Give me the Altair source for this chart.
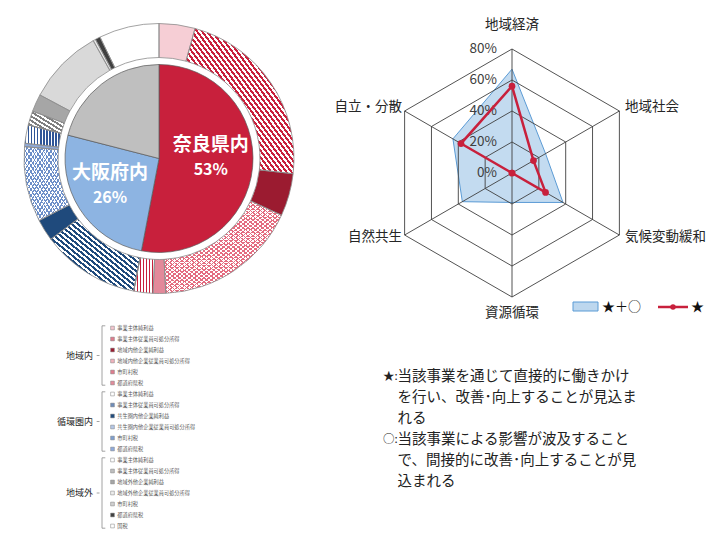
import altair as alt
import pandas as pd
import numpy as np

# ---------------- data ----------------
pie_labels = ["奈良県内", "大阪府内", "地域外"]
pie_values = [53, 26, 21]

ring_groups = ["地域内"] * 6 + ["循環圏内"] * 6 + ["地域外"] * 7
ring_items = [
    "事業主体純利益", "事業主体従業員可処分所得", "地域内他企業純利益",
    "地域内他企業従業員可処分所得", "市町村税", "都道府県税",
    "事業主体純利益", "事業主体従業員可処分所得", "共生圏内他企業純利益",
    "共生圏内他企業従業員可処分所得", "市町村税", "都道府県税",
    "事業主体純利益", "事業主体従業員可処分所得", "地域外他企業純利益",
    "地域外他企業従業員可処分所得", "市町村税", "都道府県税", "国税",
]
ring_values = [4.3, 22.5, 5.1, 17.3, 1.5, 2.3,
               0.0, 11.8, 2.6, 9.0, 0.4, 2.2,
               0.0, 1.7, 2.1, 9.1, 0.3, 0.6, 7.2]

radar_axes = ["地域経済", "地域社会", "気候変動緩和", "資源循環", "自然共生", "自立・分散"]
radar_all = [67, 25, 38, 19, 37, 44]      # ★＋○
radar_direct = [56, 16, 25, 0, 0, 38]     # ★
radar_levels = [0, 20, 40, 60, 80]

note_marks = ["★:", "○:"]
note_lines = [
    "当該事業を通じて直接的に働きかけ",
    "を行い、改善･向上することが見込ま",
    "れる",
    "当該事業による影響が波及すること",
    "で、間接的に改善･向上することが見",
    "込まれる",
]

# ---------------- styles ----------------
FONT = "Noto Sans CJK JP"
OFF = 8
CX, CY = 159 - OFF, 158.5 - OFF
R_PIE, R_IN, R_OUT = 94, 101, 135

pie_colors = ["#C8203C", "#8DB4E2", "#BFBFBF"]
ring_base = ["#F6CED5", "#FFFFFF", "#9B1B30", "#FFFFFF", "#E3899A", "#FFFFFF",
             "#FFFFFF", "#FFFFFF", "#1F4A7C", "#FFFFFF", "#8FA9D6", "#FFFFFF",
             "#FFFFFF", "#FFFFFF", "#A6A6A6", "#D9D9D9", "#E6E6E6", "#404040", "#FFFFFF"]
legend_swatch = ["#F4C6CE", "#E07D8E", "#9B1B30", "#F0B3BD", "#E07D8E", "#E38C9B",
                 "#FFFFFF", "#6F8DB9", "#1F4A7C", "#B4C7E7", "#7F9FCF", "#8FAADC",
                 "#FFFFFF", "#BFBFBF", "#A6A6A6", "#EDEDED", "#D0D0D0", "#404040", "#FFFFFF"]
TRANSP = "rgba(255,255,255,0)"


def stripes(color, n, kind, duty=0.5):
    stops = []
    for i in range(n):
        a = round(i / n, 5)
        b = round((i + duty) / n, 5)
        c = round((i + 1) / n, 5)
        stops += [{"offset": a, "color": color}, {"offset": b, "color": color},
                  {"offset": b, "color": TRANSP}, {"offset": c, "color": TRANSP}]
    if kind == "vert":
        g = dict(x1=0, y1=0, x2=1, y2=0)
    elif kind == "back":
        g = dict(x1=0, y1=1, x2=1, y2=0)
    else:
        g = dict(x1=0, y1=0, x2=1, y2=1)
    return {"gradient": "linear", "stops": stops, **g}


patterns = {
    1: [stripes("#C8203C", 43, "back")],
    3: [stripes("#E46C80", 48, "back", 0.32), stripes("#E46C80", 48, "fwd", 0.32)],
    5: [stripes("#C8203C", 7, "vert")],
    7: [stripes("#1F4A7C", 28, "back")],
    9: [stripes("#6D8FC9", 25, "back", 0.32), stripes("#6D8FC9", 25, "fwd", 0.32)],
    11: [stripes("#2F5597", 12, "vert")],
    13: [stripes("#7F7F7F", 10, "back")],
}

# ---------------- tables ----------------
pie = pd.DataFrame({"label": pie_labels, "value": pie_values})
pie["end"] = pie["value"].cumsum()
pie["start"] = pie["end"] - pie["value"]
pie["mid"] = pie["start"] + pie["value"] / 2
pie["pct"] = pie["value"].astype(str) + "%"
pie["color"] = pie_colors

ring = pd.DataFrame({"group": ring_groups, "item": ring_items, "value": ring_values})
ring["row"] = np.arange(len(ring))
ring["key"] = ring["group"] + "|" + ring["item"]
ring["end"] = ring["value"].cumsum()
ring["start"] = ring["end"] - ring["value"]
ring["base"] = ring_base
ring["swatch"] = legend_swatch

TH = alt.Scale(domain=[0, 100])
cxy = dict(x=alt.value(CX), y=alt.value(CY))

layers = []
layers.append(
    alt.Chart(ring).mark_arc(radius=R_OUT, radius2=R_IN, strokeWidth=0).encode(
        theta=alt.Theta("start:Q", scale=TH), theta2="end:Q",
        fill=alt.Fill("base:N", scale=None), **cxy)
)
for idx, grads in patterns.items():
    k = ring["key"][idx]
    for g in grads:
        layers.append(
            alt.Chart(ring).transform_filter(alt.datum.key == k)
            .mark_arc(radius=R_OUT, radius2=R_IN, fill=g, strokeWidth=0)
            .encode(theta=alt.Theta("start:Q", scale=TH), theta2="end:Q", **cxy)
        )
layers.append(
    alt.Chart(ring).mark_arc(radius=R_OUT, radius2=R_IN, fill="#FFFFFF", fillOpacity=0,
                             stroke="#8C8C8C", strokeWidth=0.8).encode(
        theta=alt.Theta("start:Q", scale=TH), theta2="end:Q", **cxy)
)
layers.append(
    alt.Chart(pie).mark_arc(radius=R_PIE, stroke="#5A5A5A", strokeWidth=0.7).encode(
        theta=alt.Theta("start:Q", scale=TH), theta2="end:Q",
        fill=alt.Fill("color:N", scale=None), **cxy)
)
pie_lab_style = {"奈良県内": (52, -18, 7), "大阪府内": (58, -16.5, 8.5)}
for name, (rr, d1, d2) in pie_lab_style.items():
    base = alt.Chart(pie).transform_filter(alt.datum.label == name)
    layers.append(base.mark_text(radius=rr, dy=d1, font=FONT, fontSize=19, fontWeight="bold",
                                 color="white").encode(
        theta=alt.Theta("mid:Q", scale=TH), text="label:N", **cxy))
    layers.append(base.mark_text(radius=rr, dy=d2, font=FONT, fontSize=16, fontWeight="bold",
                                 color="white").encode(
        theta=alt.Theta("mid:Q", scale=TH), text="pct:N", **cxy))

# ---------------- radar ----------------
RX = alt.Scale(domain=[-80, 80], range=[512 - 124 - OFF, 512 + 124 - OFF], nice=False, zero=False)
RY = alt.Scale(domain=[-80, 80], range=[173 + 124 - OFF, 173 - 124 - OFF], nice=False, zero=False)

ax_df = pd.DataFrame({"idx": range(6), "axis": radar_axes})
all_df = pd.DataFrame({"idx": range(6), "value": radar_all})
dir_df = pd.DataFrame({"idx": range(6), "value": radar_direct})
grid_df = pd.DataFrame([(lv, i) for lv in radar_levels[1:] for i in range(6)],
                       columns=["value", "idx"])
lev_df = pd.DataFrame({"level": radar_levels})


def polar(ch):
    return ch.transform_calculate(
        ang="PI/2 - datum.idx*PI/3",
        px="datum.value*cos(datum.ang)",
        py="datum.value*sin(datum.ang)")


xy = dict(x=alt.X("px:Q", scale=RX, axis=None), y=alt.Y("py:Q", scale=RY, axis=None),
          order=alt.Order("idx:Q"))

layers.append(polar(alt.Chart(all_df)).mark_line(
    interpolate="linear-closed", fill="#BDD7EE", fillOpacity=0.9,
    stroke="#5B9BD5", strokeWidth=1).encode(**xy))
layers.append(polar(alt.Chart(grid_df)).mark_line(
    interpolate="linear-closed", stroke="#404040", strokeWidth=0.9).encode(
    detail="value:N", **xy))
layers.append(alt.Chart(ax_df).transform_calculate(
    ang="PI/2 - datum.idx*PI/3", z="0",
    xe="80*cos(datum.ang)", ye="80*sin(datum.ang)").mark_rule(
    color="#404040", strokeWidth=0.9).encode(
    x=alt.X("z:Q", scale=RX, axis=None), y=alt.Y("z:Q", scale=RY, axis=None),
    x2="xe:Q", y2="ye:Q"))
layers.append(alt.Chart(lev_df).transform_calculate(lab="datum.level + '%'").mark_text(
    align="right", baseline="middle", font=FONT, fontSize=13.5, color="#404040").encode(
    x=alt.value(497 - OFF), y=alt.Y("level:Q", scale=RY, axis=None), text="lab:N"))
layers.append(polar(alt.Chart(dir_df)).mark_line(
    interpolate="linear-closed", stroke="#C8203C", strokeWidth=2.5).encode(**xy))
layers.append(polar(alt.Chart(dir_df)).mark_circle(
    color="#C8203C", size=45, opacity=1).encode(
    x=alt.X("px:Q", scale=RX, axis=None), y=alt.Y("py:Q", scale=RY, axis=None)))

ax_pos = [("center", 504, 17), ("left", 617, 99), ("left", 617, 229),
          ("center", 504, 305), ("right", 394, 229), ("right", 394, 99)]
for i, (al, lx, ly) in enumerate(ax_pos):
    layers.append(alt.Chart(ax_df).transform_filter(alt.datum.idx == i).mark_text(
        align=al, baseline="middle", font=FONT, fontSize=13.5, color="#262626").encode(
        x=alt.value(lx), y=alt.value(ly), text="axis:N"))

one = pd.DataFrame({"a": [0]})
layers.append(alt.Chart(one).mark_rect(fill="#BDD7EE", stroke="#5B9BD5", strokeWidth=1).encode(
    x=alt.value(565), x2=alt.value(590), y=alt.value(294), y2=alt.value(303)))
layers.append(alt.Chart(one).mark_text(text="★＋○", align="left", baseline="middle",
                                       font=FONT, fontSize=13, color="#111").encode(
    x=alt.value(594), y=alt.value(299)))
layers.append(alt.Chart(one).mark_rule(color="#C8203C", strokeWidth=2.5).encode(
    x=alt.value(650), x2=alt.value(680), y=alt.value(299)))
layers.append(alt.Chart(one).mark_circle(color="#C8203C", size=30, opacity=1).encode(
    x=alt.value(665), y=alt.value(299)))
layers.append(alt.Chart(one).mark_text(text="★", align="left", baseline="middle",
                                       font=FONT, fontSize=13, color="#111").encode(
    x=alt.value(683), y=alt.value(299)))

# ---------------- left legend ----------------
LY = alt.Scale(domain=[0, 18], range=[328 - OFF, 526 - OFF], nice=False, zero=False)
layers.append(alt.Chart(ring).mark_square(size=14, stroke="#7F7F7F", strokeWidth=0.5,
                                          opacity=1).encode(
    x=alt.value(112.5 - OFF), y=alt.Y("row:Q", scale=LY, axis=None),
    fill=alt.Fill("swatch:N", scale=None)))
layers.append(alt.Chart(ring).mark_text(align="left", baseline="middle", font=FONT,
                                        fontSize=5.2, color="#595959").encode(
    x=alt.value(117.3 - OFF), y=alt.Y("row:Q", scale=LY, axis=None), text="item:N"))

grp = ring.groupby("group", sort=False)["row"].agg(["min", "max"]).reset_index()
grp["top"] = grp["min"] - 0.2
grp["bot"] = grp["max"] + 0.2
grp["mid"] = (grp["min"] + grp["max"]) / 2
BR = "#8C8C8C"
layers.append(alt.Chart(grp).mark_rule(color=BR, strokeWidth=0.8).encode(
    x=alt.value(94), y=alt.Y("top:Q", scale=LY, axis=None), y2="bot:Q"))
for fld in ["top", "bot"]:
    layers.append(alt.Chart(grp).mark_rule(color=BR, strokeWidth=0.8).encode(
        x=alt.value(94), x2=alt.value(97.3), y=alt.Y(f"{fld}:Q", scale=LY, axis=None)))
layers.append(alt.Chart(grp).mark_rule(color=BR, strokeWidth=0.8).encode(
    x=alt.value(88.7), x2=alt.value(91.5), y=alt.Y("mid:Q", scale=LY, axis=None)))
layers.append(alt.Chart(grp).mark_text(align="right", baseline="middle", font=FONT,
                                       fontSize=9, color="#262626").encode(
    x=alt.value(85), y=alt.Y("mid:Q", scale=LY, axis=None), text="group:N"))

# ---------------- notes ----------------
NY = alt.Scale(domain=[0, 5], range=[377 - OFF, 482 - OFF], nice=False, zero=False)
note_df = pd.DataFrame({"row": range(len(note_lines)), "line": note_lines})
mark_df = pd.DataFrame({"row": [0, 3], "m": note_marks})
layers.append(alt.Chart(mark_df).mark_text(align="left", baseline="middle", font=FONT,
                                           fontSize=11.5, color="#222").encode(
    x=alt.value(375), y=alt.Y("row:Q", scale=NY, axis=None), text="m:N"))
layers.append(alt.Chart(note_df).mark_text(align="left", baseline="middle", font=FONT,
                                           fontSize=14.5, color="#222").encode(
    x=alt.value(389.5), y=alt.Y("row:Q", scale=NY, axis=None), text="line:N"))

chart = alt.layer(*layers).properties(
    width=704, height=529, padding=0,
    autosize=alt.AutoSizeParams(type="none"),
).resolve_scale(x="independent", y="independent").configure_view(stroke=None)

chart.save("out.html", embed_options={"renderer": "svg", "actions": False})
